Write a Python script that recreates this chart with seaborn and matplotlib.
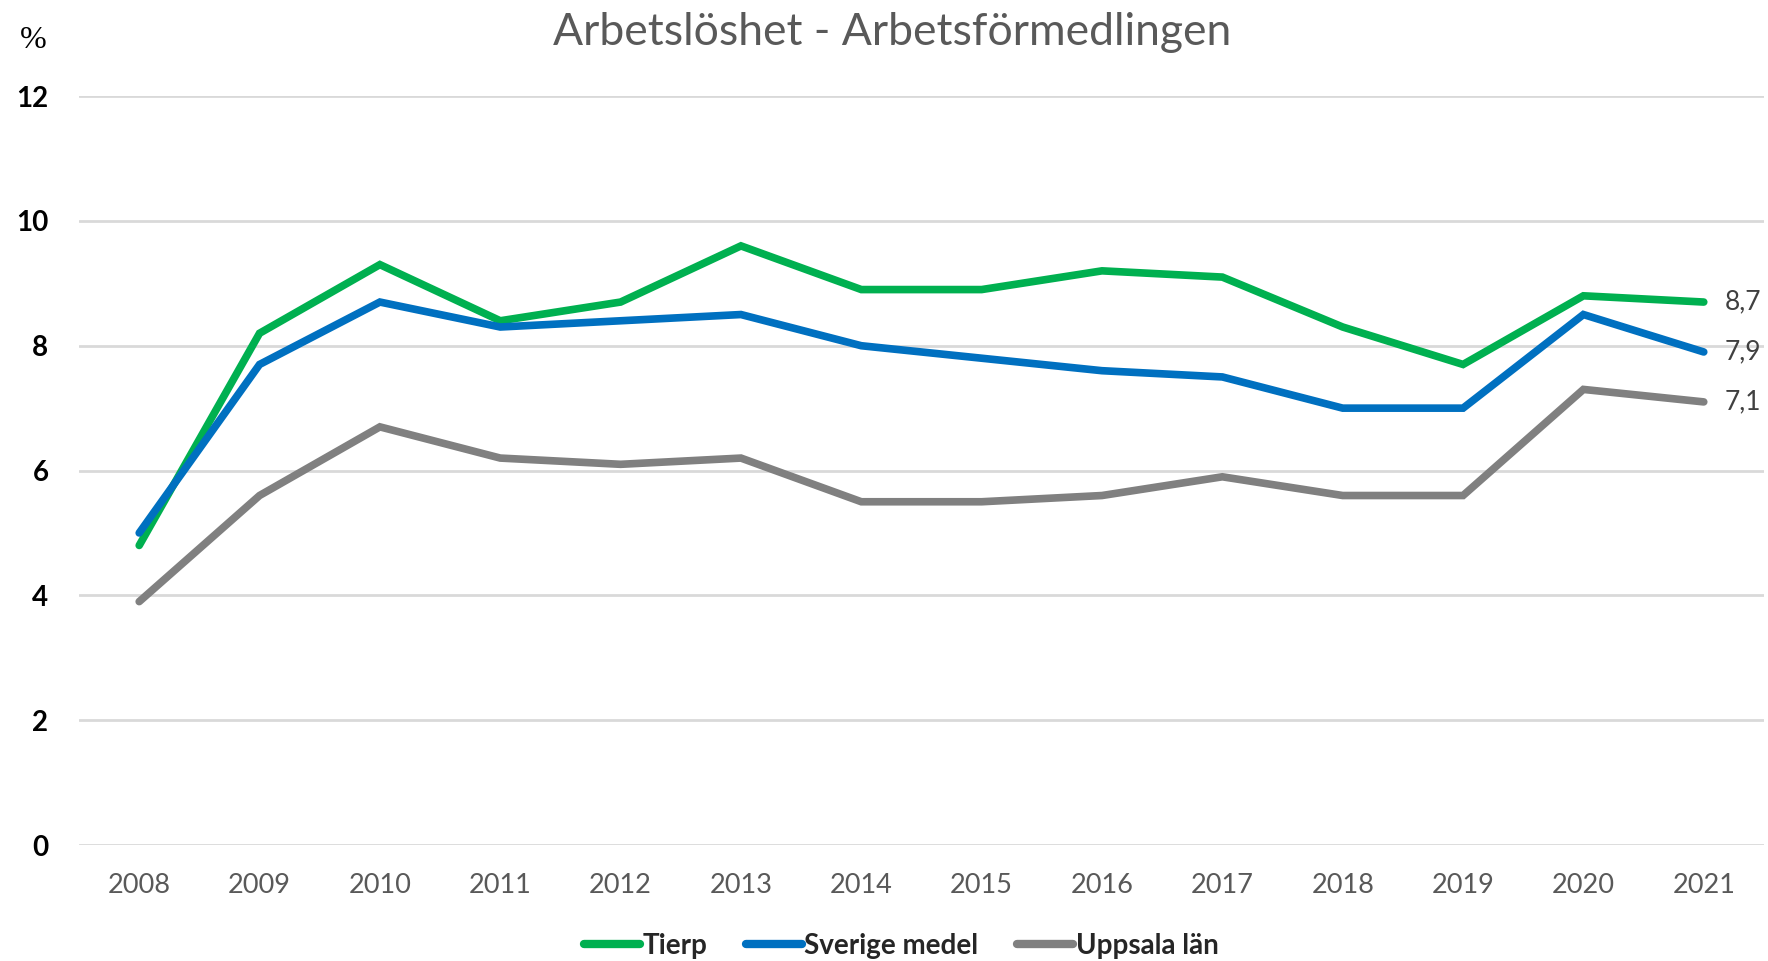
import matplotlib
matplotlib.use("Agg")
import matplotlib.pyplot as plt
import seaborn as sns
import pandas as pd

years = ["2008", "2009", "2010", "2011", "2012", "2013", "2014",
         "2015", "2016", "2017", "2018", "2019", "2020", "2021"]
tierp = [4.8, 8.2, 9.3, 8.4, 8.7, 9.6, 8.9, 8.9, 9.2, 9.1, 8.3, 7.7, 8.8, 8.7]
sverige = [5.0, 7.7, 8.7, 8.3, 8.4, 8.5, 8.0, 7.8, 7.6, 7.5, 7.0, 7.0, 8.5, 7.9]
uppsala = [3.9, 5.6, 6.7, 6.2, 6.1, 6.2, 5.5, 5.5, 5.6, 5.9, 5.6, 5.6, 7.3, 7.1]
series_names = ["Tierp", "Sverige medel", "Uppsala län"]
end_labels = ["8,7", "7,9", "7,1"]
title = "Arbetslöshet - Arbetsförmedlingen"
yticks = [0, 2, 4, 6, 8, 10, 12]

colors = ["#00B050", "#0070C0", "#808080"]

sns.set_theme(style="white")
plt.rcParams["font.family"] = ["Lato", "DejaVu Sans"]

rows = []
for name, vals in zip(series_names, [tierp, sverige, uppsala]):
    for i, (y, v) in enumerate(zip(years, vals)):
        rows.append({"idx": i, "year": y, "value": v, "series": name})
df = pd.DataFrame(rows)

fig = plt.figure(figsize=(17.68, 9.61), dpi=100)
ax = fig.add_axes([0.0447, 0.1207, 0.953, 0.7793])

sns.lineplot(data=df, x="idx", y="value", hue="series", hue_order=series_names,
             palette=colors, linewidth=5.5, ax=ax, legend=True,
             solid_capstyle="round", solid_joinstyle="miter")

ax.set_xlim(-0.5, 13.5)
ax.set_ylim(0, 12)
ax.set_yticks(yticks)
ax.set_yticklabels([str(t) for t in yticks], fontsize=20, fontweight="bold", color="black")
ax.set_xticks(range(len(years)))
ax.set_xticklabels(years, fontsize=19.5, color="#595959")
ax.tick_params(axis="y", length=0, pad=22)
ax.tick_params(axis="x", length=0, pad=20)
ax.yaxis.grid(True, color="#D9D9D9", linewidth=2)
ax.xaxis.grid(False)
for s in ax.spines.values():
    s.set_visible(False)
ax.set_xlabel("")
ax.set_ylabel("")

last = len(years) - 1
for vals, lab in zip([tierp, sverige, uppsala], end_labels):
    ax.annotate(lab, xy=(last, vals[-1]), xytext=(15, 0), textcoords="offset points",
                fontsize=19, color="#404040", va="center", ha="left")

fig.text(0.5045, 0.966, title, ha="center", va="center", fontsize=32, color="#595959")
fig.text(0.011, 0.958, "%", ha="left", va="center", fontsize=23, color="black",
         family=["Liberation Serif", "DejaVu Serif"])

handles, labels = ax.get_legend_handles_labels()
leg = ax.legend(handles, labels, loc="center", bbox_to_anchor=(0.488, -0.135),
                ncol=3, frameon=False, handlelength=2.0, handletextpad=0.1,
                columnspacing=1.4,
                prop={"size": 20, "weight": "bold", "family": ["Lato", "DejaVu Sans"]})
for h in leg.get_lines():
    h.set_linewidth(6)
    h.set_solid_capstyle("round")

fig.savefig("out.png", dpi=100, facecolor="white")
